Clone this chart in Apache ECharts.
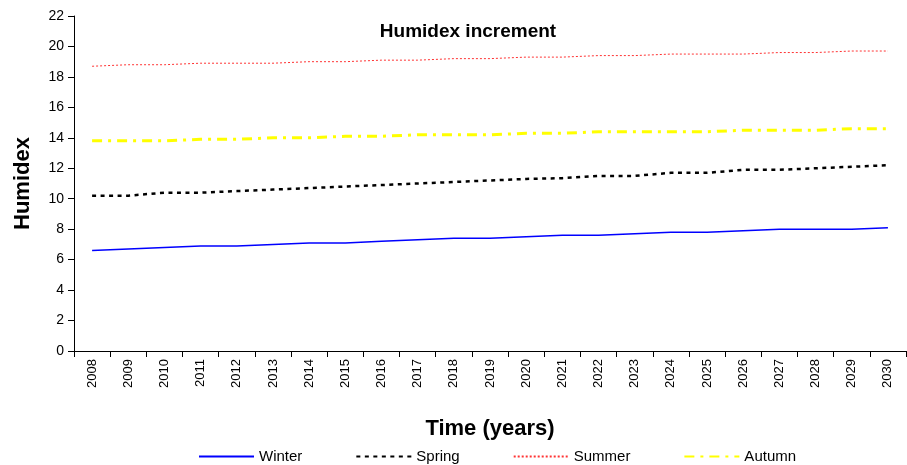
<!DOCTYPE html>
<html>
<head>
<meta charset="utf-8">
<script src="https://cdn.jsdelivr.net/npm/echarts@6/dist/echarts.min.js"></script>
<style>
	html, body { margin: 0; padding: 0; background: #fff; }
	#chart { width: 907px; height: 465px; }
</style>
</head>
<body>
<div id="chart"></div>
<script>
const years = ['2008', '2009', '2010', '2011', '2012', '2013', '2014', '2015', '2016', '2017', '2018', '2019',
	'2020', '2021', '2022', '2023', '2024', '2025', '2026', '2027', '2028', '2029', '2030'];
const winter = [6.6, 6.7, 6.8, 6.9, 6.9, 7.0, 7.1, 7.1, 7.2, 7.3, 7.4, 7.4,
	7.5, 7.6, 7.6, 7.7, 7.8, 7.8, 7.9, 8.0, 8.0, 8.0, 8.1];
const spring = [10.2, 10.2, 10.4, 10.4, 10.5, 10.6, 10.7, 10.8, 10.9, 11.0, 11.1, 11.2,
	11.3, 11.35, 11.5, 11.5, 11.7, 11.7, 11.9, 11.9, 12.0, 12.1, 12.2];
const summer = [18.7, 18.8, 18.8, 18.9, 18.9, 18.9, 19.0, 19.0, 19.1, 19.1, 19.2, 19.2,
	19.3, 19.3, 19.4, 19.4, 19.5, 19.5, 19.5, 19.6, 19.6, 19.7, 19.7];
const autumn = [13.8, 13.8, 13.8, 13.9, 13.9, 14.0, 14.0, 14.1, 14.1, 14.2, 14.2, 14.2,
	14.3, 14.3, 14.4, 14.4, 14.4, 14.4, 14.5, 14.5, 14.5, 14.6, 14.6];

const font = '"Liberation Sans", Arial, sans-serif';

const myChart = echarts.init(document.getElementById('chart'));

function line(name, data, color, width, dash) {
	return {
		name: name,
		type: 'line',
		data: data,
		symbol: 'none',
		animation: false,
		lineStyle: { color: color, width: width, type: dash },
		itemStyle: { color: color }
	};
}

let option = {
	backgroundColor: '#fff',
	title: {
		text: 'Humidex increment',
		left: 463,
		textAlign: 'center',
		top: 17,
		textStyle: { fontFamily: font, fontSize: 19, fontWeight: 'bold', color: '#000' }
	},
	grid: { left: 74, right: 1, top: 16, bottom: 114, containLabel: false, outerBoundsMode: 'none' },
	legend: {
		top: 444,
		left: 193,
		itemWidth: 55,
		itemHeight: 14,
		itemGap: 53,
		itemStyle: { opacity: 0 },
		textStyle: { fontFamily: font, fontSize: 15, color: '#000' },
		data: ['Winter', 'Spring', 'Summer', 'Autumn']
	},
	xAxis: {
		type: 'category',
		data: years,
		boundaryGap: true,
		name: 'Time (years)',
		nameLocation: 'middle',
		nameGap: 67,
		nameTextStyle: { fontFamily: font, fontSize: 22, fontWeight: 'bold', color: '#000' },
		axisLine: { lineStyle: { color: '#000', width: 1 } },
		axisTick: { show: true, length: 6, lineStyle: { color: '#000' } },
		axisLabel: { rotate: 90, fontFamily: font, fontSize: 13, color: '#000', margin: 8, interval: 0 },
		splitLine: { show: false }
	},
	yAxis: {
		type: 'value',
		min: 0,
		max: 22,
		interval: 2,
		name: 'Humidex',
		nameLocation: 'middle',
		nameGap: 40,
		nameTextStyle: { fontFamily: font, fontSize: 22, fontWeight: 'bold', color: '#000' },
		axisLine: { show: true, lineStyle: { color: '#000', width: 1 } },
		axisTick: { show: true, length: 6, lineStyle: { color: '#000' } },
		axisLabel: { fontFamily: font, fontSize: 14, color: '#000', margin: 10 },
		splitLine: { show: false }
	},
	series: [
		line('Winter', winter, '#0000ff', 1.5, 'solid'),
		line('Spring', spring, '#000000', 2.5, [4, 4.5]),
		line('Summer', summer, 'rgba(255,0,0,0.8)', 1, [2, 2]),
		line('Autumn', autumn, '#ffff00', 3, [10, 6, 3, 6])
	]
};

myChart.setOption(option);
</script>
</body>
</html>
